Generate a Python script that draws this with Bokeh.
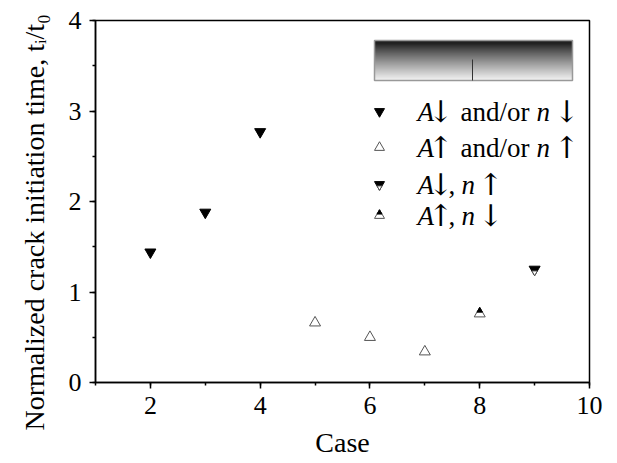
import math
from bokeh.plotting import figure
from bokeh.models import Range1d, Label, FixedTicker, Title
from bokeh.embed import file_html
from bokeh.resources import INLINE

# ---------------- data ----------------
cases_dec = [2, 3, 4]          # A down and/or n down
t_dec = [1.44, 1.88, 2.77]
cases_inc = [5, 6, 7]          # A up and/or n up
t_inc = [0.66, 0.50, 0.34]
cases_adn_nup = [9]            # A down, n up
t_adn_nup = [1.25]
cases_aup_ndn = [8]            # A up, n down
t_aup_ndn = [0.76]

x_ticks = [2, 4, 6, 8, 10]
x_minor = [1, 2, 3, 4, 5, 6, 7, 8, 9, 10]
y_ticks = [0, 1, 2, 3, 4]
y_minor = [0, 0.5, 1, 1.5, 2, 2.5, 3, 3.5, 4]

x_title = "Case"
y_title = "Normalized crack initiation time, t\u1d62/t\u2080"

# ---------------- layout ----------------
W, H = 617, 463
L, R, T, B = 95, 589, 20, 382
X0, X1, Y0, Y1 = 1, 10, 0, 4
FONT = "Liberation Serif"
ARROW_FONT = "DejaVu Serif"

def px_x(px):
    return X0 + (px - L) / (R - L) * (X1 - X0)

def px_y(py):
    return Y0 + (B - py) / (B - T) * (Y1 - Y0)

def dpx_y(d):
    return d / (B - T) * (Y1 - Y0)

p = figure(width=W, height=H, x_range=Range1d(X0, X1), y_range=Range1d(Y0, Y1),
           output_backend="svg", toolbar_location=None,
           min_border_left=L, min_border_right=W - R,
           min_border_top=T, min_border_bottom=H - B)
p.grid.visible = False
p.outline_line_color = "black"
p.outline_line_width = 1.5
p.outline_line_alpha = 1.0
p.background_fill_color = "white"
p.border_fill_color = "white"

for ax, ticks, minor in ((p.xaxis[0], x_ticks, x_minor), (p.yaxis[0], y_ticks, y_minor)):
    ax.ticker = FixedTicker(ticks=ticks, minor_ticks=minor)
    ax.axis_line_width = 1.5
    ax.major_tick_line_width = 1.5
    ax.minor_tick_line_width = 1.5
    ax.major_tick_in = 0
    ax.major_tick_out = 6
    ax.minor_tick_in = 0
    ax.minor_tick_out = 3
    ax.major_label_text_font = FONT
    ax.major_label_text_font_size = "26px"
    ax.major_label_text_color = "black"
    ax.axis_label_text_font = FONT
    ax.axis_label_text_font_size = "28px"
    ax.axis_label_text_font_style = "normal"
    ax.axis_label_text_color = "black"

p.xaxis[0].axis_label = x_title
p.xaxis[0].major_label_standoff = 8
p.xaxis[0].axis_label_standoff = 10
p.yaxis[0].major_label_standoff = 8

# y-axis title as a left-side title so it can be shifted along the axis
p.add_layout(Title(text=y_title, text_font=FONT, text_font_size="28px",
                   text_font_style="normal", text_color="black",
                   align="left", offset=-48, standoff=32), "left")

def label(xpx, ypx, txt, font=FONT, style="normal", size="28px", align="left",
          baseline="alphabetic", angle=0.0):
    p.add_layout(Label(x=px_x(xpx), y=px_y(ypx), text=txt, text_font=font,
                       text_font_style=style, text_font_size=size,
                       text_color="black", text_baseline=baseline,
                       text_align=align, angle=angle))

# ---------------- data markers ----------------
S = 11
h = S * math.sqrt(3) / 2
p.scatter(cases_dec, t_dec, marker="inverted_triangle", size=S,
          fill_color="black", line_color="black", line_width=1)
p.scatter(cases_inc, t_inc, marker="triangle", size=S,
          fill_color="white", line_color="#555555", line_width=1)
# A down, n up: inverted triangle, upper part filled
p.scatter(cases_adn_nup, t_adn_nup, marker="inverted_triangle", size=S,
          fill_color="black", line_color="black", line_width=1)
p.scatter(cases_adn_nup, [v - dpx_y(h / 3) for v in t_adn_nup], marker="inverted_triangle",
          size=S / 2, fill_color="white", line_color="#555555", line_width=1)
# A up, n down: triangle, upper part filled
p.scatter(cases_aup_ndn, t_aup_ndn, marker="triangle", size=S,
          fill_color="white", line_color="#555555", line_width=1)
p.scatter(cases_aup_ndn, [v + dpx_y(h / 3) for v in t_aup_ndn], marker="triangle",
          size=S / 2, fill_color="black", line_color="black", line_width=1)

# ---------------- gradient box ----------------
gx0, gx1, gy0, gy1 = 374, 572, 40, 80
n = 40
lefts, rights, tops, bottoms, cols = [], [], [], [], []
for i in range(n):
    t = (i + 0.5) / n
    u = max(0.0, (t - 0.08) / 0.92)
    g = int(round(242 * u ** 0.85))
    y_top = gy0 + (gy1 - gy0) * i / n
    y_bot = gy0 + (gy1 - gy0) * (i + 1) / n
    lefts.append(px_x(gx0)); rights.append(px_x(gx1))
    tops.append(px_y(y_top)); bottoms.append(px_y(y_bot + 0.3))
    cols.append("#%02x%02x%02x" % (g, g, g))
p.quad(left=lefts, right=rights, top=tops, bottom=bottoms, fill_color=cols, line_color=None)
p.quad(left=[px_x(gx0)], right=[px_x(gx1)], top=[px_y(gy0)], bottom=[px_y(gy1)],
       fill_color=None, line_color="#999999", line_width=1.5)
p.segment(x0=[px_x(472)], y0=[px_y(59)], x1=[px_x(472)], y1=[px_y(gy1)],
          line_color="#333333", line_width=1)

# ---------------- legend ----------------
lx = 379
LS = 10
lh = LS * math.sqrt(3) / 2
rows_y = [111, 147, 184, 215]

my = [px_y(v) for v in rows_y]
p.scatter([px_x(lx)], [my[0]], marker="inverted_triangle", size=LS,
          fill_color="black", line_color="black")
p.scatter([px_x(lx)], [my[1]], marker="triangle", size=LS,
          fill_color="white", line_color="#555555")
p.scatter([px_x(lx)], [my[2]], marker="inverted_triangle", size=LS,
          fill_color="black", line_color="black")
p.scatter([px_x(lx)], [my[2] - dpx_y(lh / 3)], marker="inverted_triangle", size=LS / 2,
          fill_color="white", line_color="#555555")
p.scatter([px_x(lx)], [my[3]], marker="triangle", size=LS,
          fill_color="white", line_color="#555555")
p.scatter([px_x(lx)], [my[3] + dpx_y(lh / 3)], marker="triangle", size=LS / 2,
          fill_color="black", line_color="black")

DN, UP = "\u2193\ufe0e", "\u2191\ufe0e"
legend_text = [
    [("A", "italic", 417), ("and/or", "normal", 460), ("n", "italic", 536)],
    [("A", "italic", 417), ("and/or", "normal", 460), ("n", "italic", 536)],
    [("A", "italic", 417), (",", "normal", 448), ("n", "italic", 461)],
    [("A", "italic", 417), (",", "normal", 448), ("n", "italic", 461)],
]
legend_arrows = [
    [(DN, 440), (DN, 566)],
    [(UP, 440), (UP, 566)],
    [(DN, 440), (UP, 490)],
    [(UP, 440), (DN, 490)],
]
for row, arrows, ypx in zip(legend_text, legend_arrows, rows_y):
    for txt, style, xpx in row:
        label(xpx, ypx, txt, style=style, size="27px", baseline="middle")
    for txt, xpx in arrows:
        label(xpx, ypx, txt, font=ARROW_FONT, size="30px", align="center", baseline="middle")

open("out.html", "w").write(file_html(p, INLINE))
